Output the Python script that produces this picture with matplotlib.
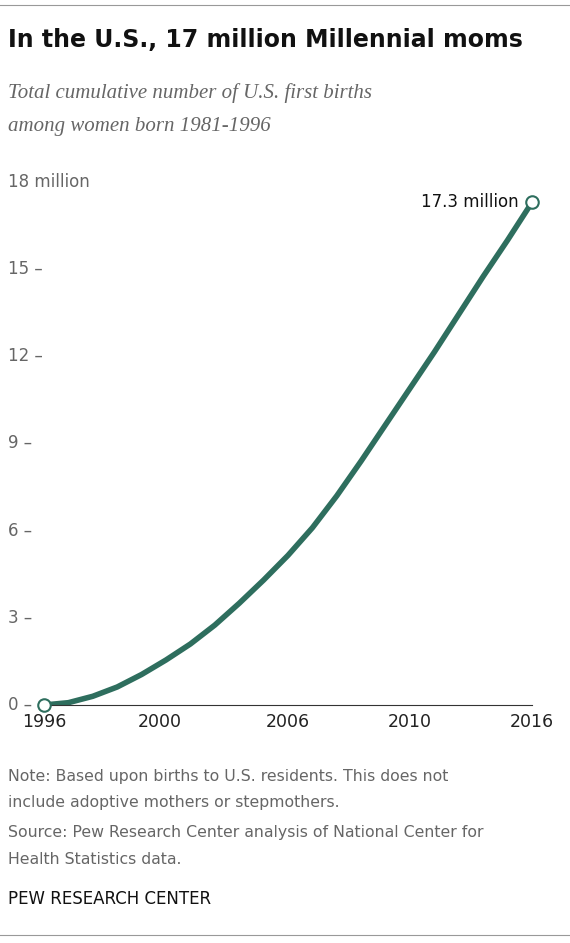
import matplotlib
matplotlib.use("Agg")
import matplotlib.pyplot as plt

years = [1996,1997,1998,1999,2000,2001,2002,2003,2004,2005,2006,2007,2008,2009,2010,2011,2012,2013,2014,2015,2016]
births = [0,0.08,0.3,0.62,1.05,1.55,2.1,2.75,3.5,4.3,5.15,6.1,7.2,8.4,9.65,10.9,12.15,13.45,14.75,16.0,17.3]
xtick_pos = [1996,2000.75,2006,2011,2016]
xtick_labels = ["1996","2000","2006","2010","2016"]
yticks = [0,3,6,9,12,15]

color = "#2e6e5e"
fig = plt.figure(figsize=(5.7,9.43), dpi=100)
W,H = 570,943
ax = fig.add_axes([44/W, 238/H, 488/W, 523/H])
ax.plot(years, births, color=color, lw=4, solid_capstyle="round", solid_joinstyle="round", zorder=2)
ax.plot([years[0],years[-1]],[births[0],births[-1]], 'o', ms=9, mfc="white", mec=color, mew=1.5, zorder=3, clip_on=False)
ax.set_xlim(1996,2016); ax.set_ylim(0,18)
for s in ["top","right","left"]:
    ax.spines[s].set_visible(False)
ax.spines["bottom"].set_color("#333")
ax.set_xticks(xtick_pos); ax.set_xticklabels(xtick_labels, fontsize=12.5, color="#222")
ax.tick_params(axis="x", length=0, pad=6)
ax.set_yticks([])
for v in yticks:
    ax.text(1996-36/24.4, v, f"{v} –", ha="left", va="center", fontsize=12, color="#666")
ax.text(1996-36/24.4, 18, "18 million", ha="left", va="center", fontsize=12, color="#666")
ax.text(2016-0.55, 17.3, "17.3 million", ha="right", va="center", fontsize=12, color="#111")

fig.text(8/W, 1-40/H, "In the U.S., 17 million Millennial moms", fontsize=17, fontweight="bold", va="center", color="#111")
fig.text(8/W, 1-93/H, "Total cumulative number of U.S. first births", fontsize=15, style="italic", family="Liberation Serif", color="#666", va="center")
fig.text(8/W, 1-127/H, "among women born 1981-1996", fontsize=15, style="italic", family="Liberation Serif", color="#666", va="center")
fig.text(8/W, 1-776/H, "Note: Based upon births to U.S. residents. This does not", fontsize=11.3, color="#666", va="center")
fig.text(8/W, 1-802/H, "include adoptive mothers or stepmothers.", fontsize=11.3, color="#666", va="center")
fig.text(8/W, 1-833/H, "Source: Pew Research Center analysis of National Center for", fontsize=11.3, color="#666", va="center")
fig.text(8/W, 1-859/H, "Health Statistics data.", fontsize=11.3, color="#666", va="center")
fig.text(8/W, 1-899/H, "PEW RESEARCH CENTER", fontsize=12, color="#111", va="center")
fig.add_artist(plt.Line2D([0,1],[1-5/H,1-5/H], color="#999", lw=0.8))
fig.add_artist(plt.Line2D([0,1],[1-935/H,1-935/H], color="#999", lw=0.8))
fig.savefig("out.png", dpi=100)
